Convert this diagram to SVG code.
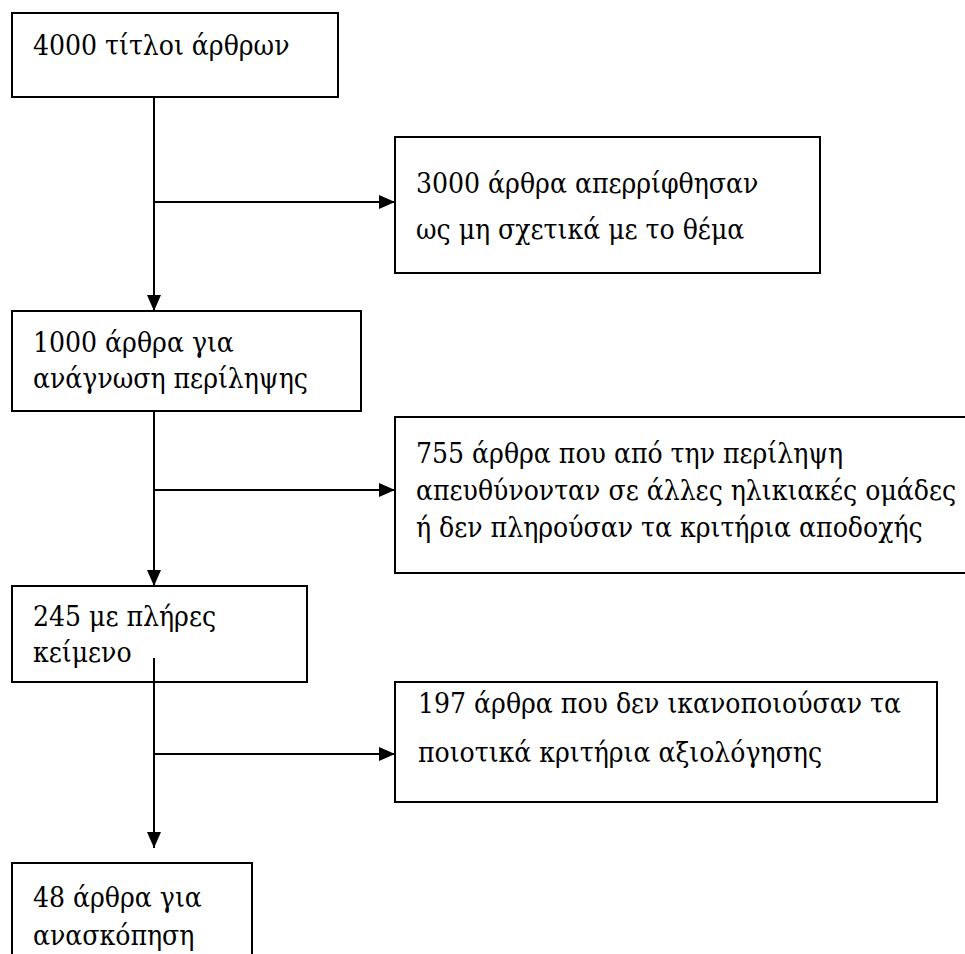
<svg xmlns="http://www.w3.org/2000/svg" width="965" height="954" viewBox="0 0 965 954">
<defs>
<style>
.box{fill:#fff;stroke:#000;stroke-width:2}
.t{font-family:"DejaVu Serif Condensed","DejaVu Serif",serif;font-stretch:condensed;font-size:28px;fill:#000}
.c{stroke:#000;stroke-width:2;fill:none}
</style>
<marker id="ah" viewBox="0 0 16 14" refX="16" refY="7" markerWidth="16" markerHeight="14" markerUnits="userSpaceOnUse" orient="auto">
<path d="M0,0 L16,7 L0,14 Z" fill="#000"/>
</marker>
</defs>
<rect width="965" height="954" fill="#fff"/>
<g id="n1"><rect class="box" x="12" y="13" width="326" height="84"/><text class="t" x="33" y="55">4000 τίτλοι άρθρων</text></g>
<g id="n2"><rect class="box" x="395" y="137" width="425" height="136"/><text class="t" x="416" y="193">3000 άρθρα απερρίφθησαν</text><text class="t" x="416" y="239">ως μη σχετικά με το θέμα</text></g>
<g id="n3"><rect class="box" x="12" y="311" width="349" height="100"/><text class="t" x="33" y="352">1000 άρθρα για</text><text class="t" x="33" y="388">ανάγνωση περίληψης</text></g>
<g id="n4"><rect class="box" x="395" y="417" width="575" height="156"/><text class="t" x="416" y="463">755 άρθρα που από την περίληψη</text><text class="t" x="416" y="500">απευθύνονταν σε άλλες ηλικιακές ομάδες</text><text class="t" x="416" y="537">ή δεν πληρούσαν τα κριτήρια αποδοχής</text></g>
<g id="n5"><rect class="box" x="12" y="586" width="295" height="96"/><text class="t" x="33" y="626">245 με πλήρες</text><text class="t" x="33" y="662">κείμενο</text></g>
<g id="n6"><rect class="box" x="395" y="682" width="542" height="120"/><text class="t" x="418" y="713">197 άρθρα που δεν ικανοποιούσαν τα</text><text class="t" x="418" y="762">ποιοτικά κριτήρια αξιολόγησης</text></g>
<g id="n7"><rect class="box" x="12" y="863" width="240" height="100"/><text class="t" x="33" y="907">48 άρθρα για</text><text class="t" x="33" y="945">ανασκόπηση</text></g>
<g id="connectors">
<line class="c" x1="154" y1="97" x2="154" y2="311" marker-end="url(#ah)"/>
<line class="c" x1="154" y1="202" x2="395" y2="202" marker-end="url(#ah)"/>
<line class="c" x1="154" y1="411" x2="154" y2="586" marker-end="url(#ah)"/>
<line class="c" x1="154" y1="490" x2="395" y2="490" marker-end="url(#ah)"/>
<line class="c" x1="154" y1="658" x2="154" y2="848" marker-end="url(#ah)"/>
<line class="c" x1="154" y1="754" x2="395" y2="754" marker-end="url(#ah)"/>
</g>
</svg>
